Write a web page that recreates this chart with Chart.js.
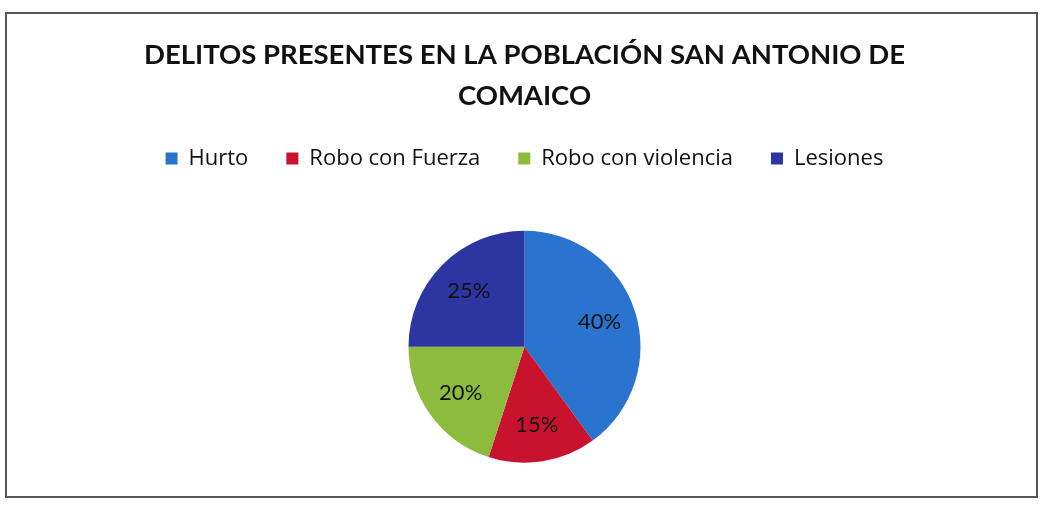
<!DOCTYPE html>
<html>
<head>
<meta charset="utf-8">
<script src="https://cdn.jsdelivr.net/npm/chart.js@4"></script>
<style>
  html, body { margin: 0; padding: 0; background: #fff; }
  #wrap { position: relative; width: 1049px; height: 519px; }
  #frame { position: absolute; left: 5px; top: 12px; width: 1033px; height: 486px;
           border: 2px solid #555; box-sizing: border-box; pointer-events: none; }
</style>
</head>
<body>
<div id="wrap">
  <canvas id="chart" width="1049" height="519"></canvas>
  <div id="frame"></div>
</div>
<script>
const categories = ["Hurto", "Robo con Fuerza", "Robo con violencia", "Lesiones"];
const values = [40, 15, 20, 25];
const colors = ["#2a74cf", "#c8122e", "#8dbb3e", "#2d35a3"];
const titleLines = ["DELITOS PRESENTES EN LA POBLACIÓN SAN ANTONIO DE", "COMAICO"];

// draws the % labels inside each slice
const sliceLabels = {
  id: "sliceLabels",
  afterDatasetsDraw(chart) {
    const ctx = chart.ctx;
    const meta = chart.getDatasetMeta(0);
    ctx.save();
    ctx.font = "22px Lato";
    ctx.fillStyle = "#111";
    ctx.textAlign = "center";
    ctx.textBaseline = "middle";
    meta.data.forEach((arc, i) => {
      const mid = (arc.startAngle + arc.endAngle) / 2;
      const r = arc.outerRadius * 0.68;
      ctx.fillText(values[i] + "%", arc.x + Math.cos(mid) * r, arc.y + Math.sin(mid) * r);
    });
    ctx.restore();
  }
};

new Chart(document.getElementById("chart"), {
  type: "pie",
  data: {
    labels: categories,
    datasets: [{
      data: values,
      backgroundColor: colors,
      borderWidth: 0,
      radius: 116
    }]
  },
  options: {
    responsive: false,
    animation: false,
    layout: { padding: { top: 34, bottom: 5, left: 0, right: 0 } },
    plugins: {
      title: {
        display: true,
        text: titleLines,
        color: "#111",
        font: { family: "Lato", size: 27.5, weight: "bold", lineHeight: 1.5 },
        padding: { top: 0, bottom: -7 }
      },
      legend: {
        position: "top",
        labels: {
          color: "#111",
          font: { family: "Open Sans", size: 22 },
          boxWidth: 12,
          boxHeight: 12,
          padding: 38
        }
      },
      tooltip: { enabled: false }
    }
  },
  plugins: [sliceLabels]
});
</script>
</body>
</html>
